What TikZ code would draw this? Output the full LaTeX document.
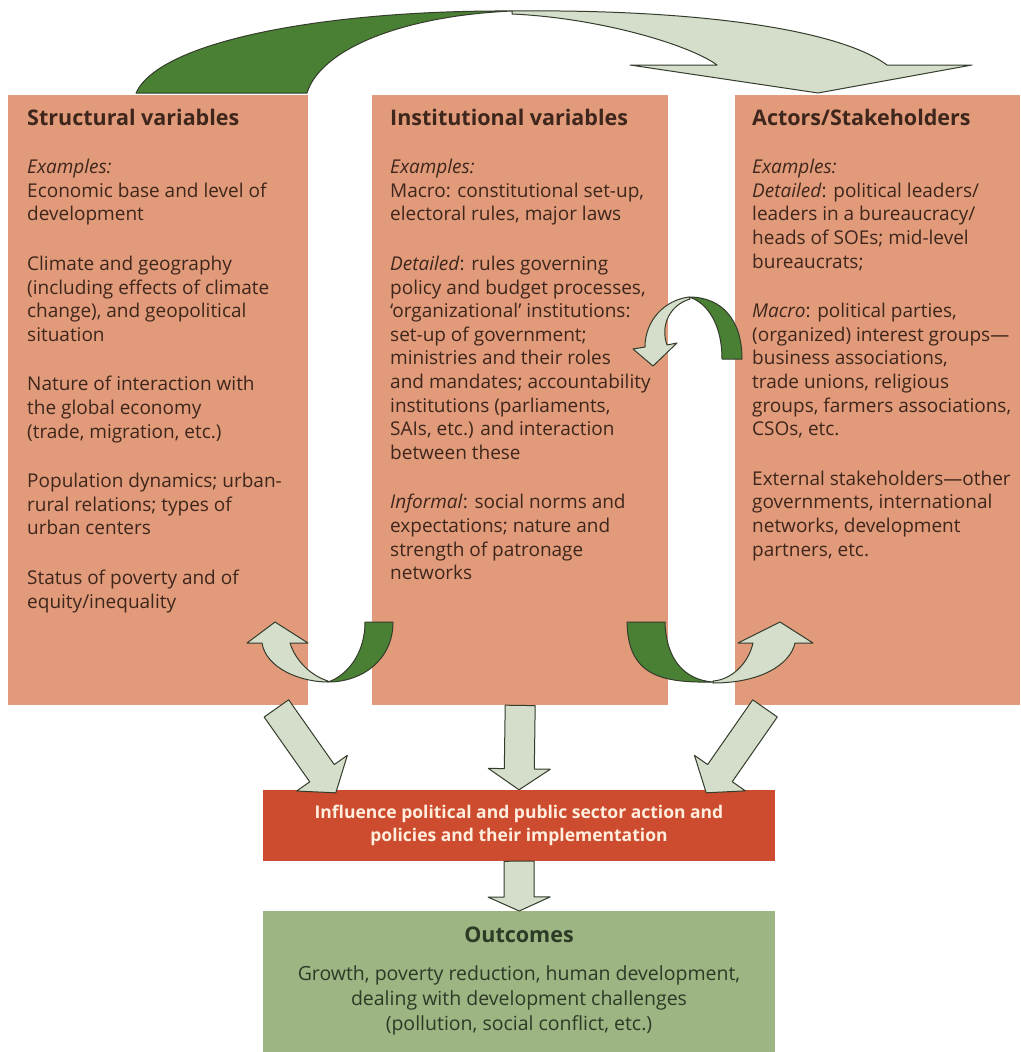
\documentclass[tikz,border=0pt]{standalone}
\usepackage{fontspec}
\setmainfont{Open Sans}
\usepackage{tikz}
\usetikzlibrary{calc,positioning}
\definecolor{colbox}{RGB}{225,155,122}
\definecolor{coltxt}{RGB}{62,38,28}
\definecolor{colred}{RGB}{205,75,46}
\definecolor{colredtxt}{RGB}{255,238,222}
\definecolor{colout}{RGB}{156,181,130}
\definecolor{colouttxt}{RGB}{44,58,38}
\definecolor{coldark}{RGB}{74,128,52}
\definecolor{collight}{RGB}{212,222,202}
\definecolor{coledge}{RGB}{52,60,44}
\tikzstyle{varbox}=[fill=colbox, inner sep=0, anchor=north west]
\tikzstyle{vartitle}=[text=coltxt, inner sep=0, anchor=base west, font=\fontsize{21.5}{25}\selectfont\bfseries]
\tikzstyle{vartext}=[text=coltxt, inner sep=0, anchor=north west, align=left, font=\fontsize{19}{23.6}\selectfont]
\tikzstyle{inflbox}=[fill=colred, text=colredtxt, align=center, inner sep=0, font=\fontsize{17.5}{23}\selectfont\bfseries]
\tikzstyle{outcbox}=[fill=colout, inner sep=0, anchor=north west]
\tikzstyle{arrdark}=[fill=coldark, draw=coledge, line width=1pt, line join=round]
\tikzstyle{arrlight}=[fill=collight, draw=coledge, line width=1pt, line join=round]
% straight block arrow: from, to, head length
\newcommand{\blockarrow}[3]{%
  \coordinate (hb) at ($(#2)!#3!(#1)$);
  \draw[arrlight] ($(#1)!15pt!90:(#2)$) -- ($(hb)!15pt!90:(#2)$) -- ($(hb)!31pt!90:(#2)$) -- (#2)
    -- ($(hb)!31pt!-90:(#2)$) -- ($(hb)!15pt!-90:(#2)$) -- ($(#1)!15pt!-90:(#2)$) -- cycle;}

\begin{document}
\begin{tikzpicture}[x=1pt,y=-1pt]
    \useasboundingbox (0,0) rectangle (1020,1052);
    \fill[white] (0,0) rectangle (1020,1052);

    % the three columns
    \node[varbox, minimum width=300, minimum height=610] (struct) at (8,95) {};
    \node[varbox, minimum width=296, minimum height=610] (inst) at (372,95) {};
    \node[varbox, minimum width=285, minimum height=610] (actor) at (735,95) {};

    \node[vartitle] (t1) at (27,125) {Structural variables};
    \node[vartitle] (t2) at (390,125) {Institutional variables};
    \node[vartitle] (t3) at (752,125) {Actors/Stakeholders};

    \node[vartext] (s1) at (27,159) {\textit{Examples:}\\
        Economic base and level of\\
        development\\[26pt]
        Climate and geography\\
        (including effects of climate\\
        change), and geopolitical\\
        situation\\[26pt]
        Nature of interaction with\\
        the global economy\\
        (trade, migration, etc.)\\[26pt]
        Population dynamics; urban-\\
        rural relations; types of\\
        urban centers\\[26pt]
        Status of poverty and of\\
        equity/inequality};
    \node[vartext] (s2) at (390,159) {\textit{Examples:}\\
        Macro: constitutional set-up,\\
        electoral rules, major laws\\[26pt]
        \textit{Detailed}: rules governing\\
        policy and budget processes,\\
        `organizational' institutions:\\
        set-up of government;\\
        ministries and their roles\\
        and mandates; accountability\\
        institutions (parliaments,\\
        SAIs, etc.) and interaction\\
        between these\\[26pt]
        \textit{Informal}: social norms and\\
        expectations; nature and\\
        strength of patronage\\
        networks};
    \node[vartext] (s3) at (752,159) {\textit{Examples:}\\
        \textit{Detailed}: political leaders/\\
        leaders in a bureaucracy/\\
        heads of SOEs; mid-level\\
        bureaucrats;\\[26pt]
        \textit{Macro}: political parties,\\
        (organized) interest groups---\\
        business associations,\\
        trade unions, religious\\
        groups, farmers associations,\\
        CSOs, etc.\\[26pt]
        External stakeholders---other\\
        governments, international\\
        networks, development\\
        partners, etc.};

    % influence and outcomes
    \node[inflbox, minimum width=512, minimum height=71] (infl) at (519,825.5) {Influence political and public sector action and\\policies and their implementation};
    \node[outcbox, minimum width=512, minimum height=142] (outc) at (263,911) {};
    \node[text=colouttxt, font=\fontsize{21.5}{25}\selectfont\bfseries] (o1) at (519,935) {Outcomes};
    \node[text=colouttxt, align=center, font=\fontsize{19.5}{25}\selectfont] (o2) at (519,1000) {Growth, poverty reduction, human development,\\dealing with development challenges\\(pollution, social conflict, etc.)};

    % curved arrows
    \draw[arrdark] (136,93) .. controls (160,40) and (330,10) .. (512,11) .. controls (400,16) and (320,50) .. (307,93) -- cycle;
    \draw[arrlight] (512,11) .. controls (700,9) and (840,30) .. (887,65) -- (972,65) -- (818,93) -- (630,65) -- (717,65) .. controls (690,45) and (600,18) .. (512,14) -- cycle;

    \draw[arrdark] (365,622) -- (393,622) .. controls (393,660) and (362,682) .. (328,682) .. controls (346,676) and (365,655) .. (365,622) -- cycle;
    \draw[arrlight] (328,682) .. controls (300,682) and (266,668) .. (262,643) -- (247,643) -- (275,622) -- (308,643) -- (290,643) .. controls (296,662) and (312,676) .. (328,681) -- cycle;

    \draw[arrdark] (627,622) -- (665,622) .. controls (666,660) and (685,680) .. (713,682) .. controls (660,683) and (628,675) .. (627,622) -- cycle;
    \draw[arrlight] (713,683) .. controls (760,683) and (790,665) .. (795,643) -- (813,643) -- (780,622) -- (738,643) -- (753,643) .. controls (748,665) and (730,680) .. (713,681) -- cycle;

    \draw[arrdark] (742,359) .. controls (742,320) and (722,297) .. (689,297) .. controls (708,303) and (722,325) .. (722,359) -- cycle;
    \draw[arrlight] (689,297) .. controls (665,300) and (645,320) .. (645,347) -- (633,349) -- (653,366) -- (677,343) -- (667,345) .. controls (660,325) and (670,305) .. (690,299) -- cycle;

    % straight arrows into the influence box and to outcomes
    \coordinate (sa) at ($(struct.south east)+(-32,3)$);
    \coordinate (ta) at ($(infl.north west)+(73,3)$);
    \coordinate (sc) at ($(actor.south west)+(30,3)$);
    \coordinate (tc) at ($(infl.north east)+(-69,3)$);
    \blockarrow{sa}{ta}{24pt}
    \blockarrow{inst.south}{infl.north}{21pt}
    \blockarrow{sc}{tc}{24pt}
    \blockarrow{infl.south}{outc.north}{14pt}
\end{tikzpicture}
\end{document}
